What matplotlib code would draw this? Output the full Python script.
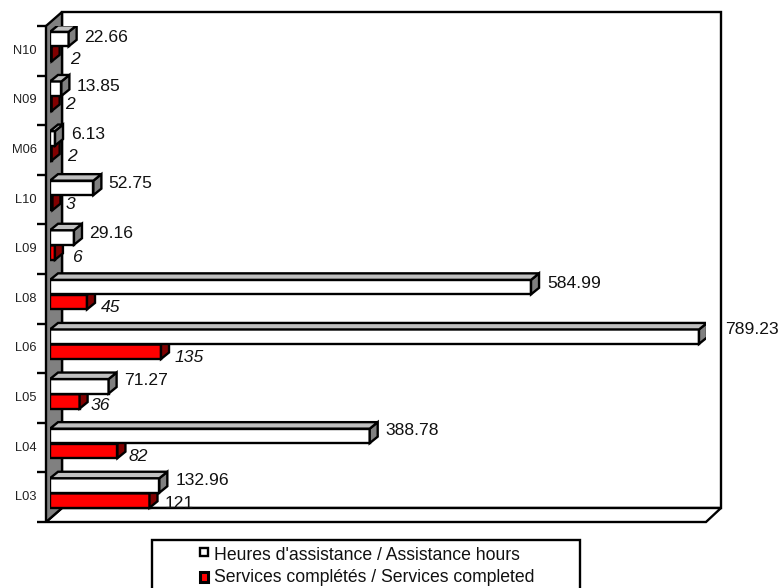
import matplotlib
matplotlib.use("Agg")
import matplotlib.pyplot as plt
from matplotlib.patches import Polygon, Rectangle

plt.rcParams["font.family"] = ["Liberation Sans", "DejaVu Sans"]

categories = ["L03", "L04", "L05", "L06", "L08", "L09", "L10", "M06", "N09", "N10"]
hours = [132.96, 388.78, 71.27, 789.23, 584.99, 29.16, 52.75, 6.13, 13.85, 22.66]
services = [121, 82, 36, 135, 45, 6, 3, 2, 2, 2]
legend_labels = ["Heures d'assistance / Assistance hours", "Services complétés / Services completed"]

# label nudges in pixels, x right and y up
hours_nudge = [(0, 1), (0, 1), (0, 2), (10, 3), (0, 0), (-1, 0), (-1, 0), (0, 0), (-1, -2), (-1, -2)]
services_nudge = [(0, 1), (-4, -2), (-4, 0), (-1, -2), (-1, -1), (2, -1), (-2, 2), (0, 1), (-2, 3), (3, -1)]

W, H = 781, 588
LW = 1.7
fig = plt.figure(figsize=(W / 100, H / 100), dpi=100)

# front plane of the chart, x=0 sits at pixel 50
left, right, top, bottom = 50, 706, 26, 522
ax = fig.add_axes([left / W, 1 - bottom / H, (right - left) / W, (bottom - top) / H])
px_per_unit = 649 / 789.23
ax.set_xlim(0, (right - left) / px_per_unit)
ax.set_ylim(-0.5, 9.5)
ax.axis("off")

# overlays in pixel coords for the box, walls and legend
bg = fig.add_axes([0, 0, 1, 1], zorder=-1)
bg.set_xlim(0, W)
bg.set_ylim(H, 0)
bg.axis("off")
fg = fig.add_axes([0, 0, 1, 1], zorder=5)
fg.set_xlim(0, W)
fg.set_ylim(H, 0)
fg.axis("off")
fg.patch.set_alpha(0)

# back wall, floor, side wall
bg.add_patch(Polygon([(62, 12), (721, 12), (721, 508), (62, 508)], fc="white", ec="black", lw=LW))
bg.add_patch(Polygon([(62, 508), (721, 508), (706, 522), (46, 522)], fc="white", ec="black", lw=LW))
bg.add_patch(Polygon([(46, 26), (62, 12), (62, 508), (46, 522)], fc="#808080", ec="black", lw=LW))

for i in range(len(categories) + 1):
    y = top + i * (bottom - top) / len(categories)
    bg.plot([37, 46], [y, y], color="black", lw=LW, solid_capstyle="butt")
for i, name in enumerate(categories):
    y = bottom - (i + 0.5) * (bottom - top) / len(categories)
    bg.text(37, y, name, ha="right", va="center", fontsize=9.3, color="#222222")

DX = 8 / px_per_unit
DY = 6.5 / 49.6
BAR_H = 14.5 / 49.6


def bar3d(y, value, face, side, roof, z):
    ax.barh(y, value, height=BAR_H, color=face, edgecolor="black", linewidth=LW, zorder=z)
    y0, y1 = y - BAR_H / 2, y + BAR_H / 2
    ax.add_patch(Polygon([(value, y0), (value + DX, y0 + DY), (value + DX, y1 + DY), (value, y1)],
                         fc=side, ec="black", lw=LW, zorder=z))
    ax.add_patch(Polygon([(0, y1), (DX, y1 + DY), (value + DX, y1 + DY), (value, y1)],
                         fc=roof, ec="black", lw=LW, zorder=z))


# white series goes over the red one, lower rows over upper rows
for i in range(len(categories)):
    z = 3 + (len(categories) - i)
    bar3d(i - 0.067, services[i], "#ff0000", "#800000", "#800000", z)
    bar3d(i + 0.236, hours[i], "white", "#808080", "#c0c0c0", z + 0.5)

for i in range(len(categories)):
    dx, dy = hours_nudge[i]
    ax.annotate(f"{hours[i]:g}", (hours[i] + DX, i + 0.236), xytext=(8 + dx, 4 + dy), textcoords="offset pixels",
                ha="left", va="center", fontsize=12.6, color="#111111", zorder=20, annotation_clip=False)
    dx, dy = services_nudge[i]
    ax.annotate(str(services[i]), (services[i] + DX, i - 0.067), xytext=(7 + dx, -4 + dy),
                textcoords="offset pixels", ha="left", va="center", fontsize=12.6, color="#111111",
                style="normal" if services[i] == 121 else "italic", zorder=20, annotation_clip=False)

# legend box runs off the bottom edge
fg.add_patch(Rectangle((152, 540), 428, 60, fc="white", ec="black", lw=LW))
fg.add_patch(Rectangle((200, 548), 8, 8, fc="white", ec="black", lw=LW))
fg.add_patch(Rectangle((200, 572), 8, 10, fc="#ff0000", ec="black", lw=2.2))
fg.text(214.5, 556, legend_labels[0], ha="left", va="center", fontsize=12.7, color="#111111")
fg.text(214.5, 578, legend_labels[1], ha="left", va="center", fontsize=12.7, color="#111111")

fig.savefig("out.png", dpi=100)
